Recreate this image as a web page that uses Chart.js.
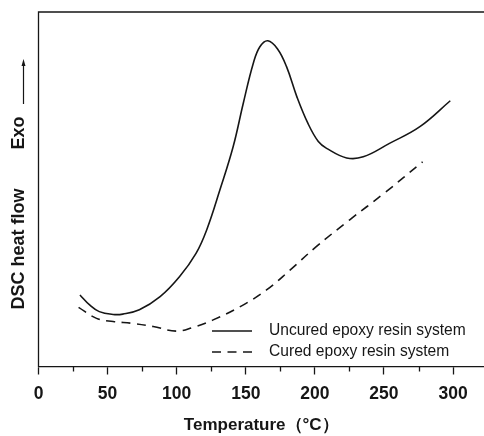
<!DOCTYPE html>
<html>
<head>
<meta charset="utf-8">
<script src="https://cdn.jsdelivr.net/npm/chart.js@4.4.0/dist/chart.umd.min.js"></script>
<style>
    html, body { margin: 0; padding: 0; background: #fff; }
</style>
</head>
<body>
<canvas id="graficoDsc" width="484" height="436"></canvas>
<script>
// Uncured epoxy resin system (solid)
const tempUncured = [30, 37, 44, 54, 61, 73, 88, 102, 114, 121.7, 131.3, 140.9, 148.2, 155.4,
                     160.2, 166, 173, 179.5, 187, 195, 202.5, 208.5, 223, 235, 254, 276, 298];
const heatUncured = [20.3, 17.5, 15.6, 14.8, 14.9, 16.1, 19.8, 25.4, 32.0, 38.6, 49.9, 62.1, 74.3, 85.5,
                     90.2, 91.9, 89.6, 84.6, 76.1, 68.6, 63.5, 61.6, 58.9, 59.2, 63.0, 67.7, 75.0];

// Cured epoxy resin system (dashed)
const tempCured = [29, 42, 54, 68, 83, 100, 112, 126, 146, 165, 182, 201, 225, 250, 278];
const heatCured = [16.8, 13.7, 12.8, 12.3, 11.4, 10.1, 11.2, 13.2, 17.0, 21.7, 27.3, 33.9, 41.4, 48.9, 57.8];

const majorTicks = [0, 50, 100, 150, 200, 250, 300];
const minorTicks = [25, 75, 125, 175, 225, 275];
const seriesNames = ["Uncured epoxy resin system", "Cured epoxy resin system"];

const COR = "#161616";
const FONTE = "'Liberation Sans', Arial, Helvetica, sans-serif";

function pares(xs, ys) {
    return xs.map((x, i) => ({ x: x, y: ys[i] }));
}

// desenha moldura, ticks menores, titulo do eixo Y e legenda
const extras = {
    id: "extras",
    afterDraw(chart) {
        const ctx = chart.ctx;
        const a = chart.chartArea;
        const sx = chart.scales.x;
        ctx.save();
        ctx.strokeStyle = COR;
        ctx.lineWidth = 1.3;
        ctx.beginPath();
        ctx.moveTo(a.left, a.bottom);
        ctx.lineTo(a.left, a.top);
        ctx.lineTo(a.right, a.top);
        minorTicks.forEach(v => {
            const px = Math.round(sx.getPixelForValue(v)) + 0.5;
            ctx.moveTo(px, a.bottom);
            ctx.lineTo(px, a.bottom + 4.5);
        });
        ctx.stroke();

        // titulo Y
        ctx.fillStyle = COR;
        ctx.font = "bold 18px " + FONTE;
        ctx.textAlign = "center";
        ctx.textBaseline = "middle";
        ctx.save();
        ctx.translate(19.5, 249);
        ctx.rotate(-Math.PI / 2);
        ctx.fillText("DSC heat flow", 0, 0);
        ctx.restore();
        ctx.save();
        ctx.translate(19.5, 133);
        ctx.rotate(-Math.PI / 2);
        ctx.fillText("Exo", 0, 0);
        ctx.restore();

        // seta
        ctx.lineWidth = 1.2;
        ctx.beginPath();
        ctx.moveTo(23.5, 104);
        ctx.lineTo(23.5, 64);
        ctx.stroke();
        ctx.beginPath();
        ctx.moveTo(23.5, 59);
        ctx.lineTo(21.5, 66);
        ctx.lineTo(25.5, 66);
        ctx.closePath();
        ctx.fill();

        // legenda
        ctx.lineWidth = 1.6;
        ctx.beginPath();
        ctx.moveTo(212, 331);
        ctx.lineTo(252, 331);
        ctx.stroke();
        ctx.setLineDash([9, 6.5]);
        ctx.beginPath();
        ctx.moveTo(212, 352);
        ctx.lineTo(252, 352);
        ctx.stroke();
        ctx.setLineDash([]);
        ctx.font = "15.6px " + FONTE;
        ctx.textAlign = "left";
        ctx.fillText(seriesNames[0], 269, 331);
        ctx.fillText(seriesNames[1], 269, 352);
        ctx.restore();
    }
};

const ctx = document.getElementById("graficoDsc").getContext("2d");

new Chart(ctx, {
    type: "line",
    data: {
        datasets: [{
            label: seriesNames[0],
            data: pares(tempUncured, heatUncured),
            borderColor: COR,
            borderWidth: 1.6,
            pointRadius: 0,
            tension: 0.4,
            fill: false
        }, {
            label: seriesNames[1],
            data: pares(tempCured, heatCured),
            borderColor: COR,
            borderWidth: 1.6,
            borderDash: [9, 6.5],
            pointRadius: 0,
            tension: 0.4,
            fill: false
        }]
    },
    options: {
        responsive: false,
        animation: false,
        layout: { padding: { left: 38.5, top: 12, right: 0, bottom: 0 } },
        plugins: {
            legend: { display: false },
            tooltip: { enabled: false }
        },
        scales: {
            x: {
                type: "linear",
                min: 0,
                max: 322.4,
                afterBuildTicks: function(scale) {
                    scale.ticks = majorTicks.map(v => ({ value: v }));
                },
                afterFit: function(scale) {
                    scale.height = 69;
                },
                grid: {
                    drawOnChartArea: false,
                    drawTicks: true,
                    tickLength: 7.5,
                    tickColor: COR,
                    tickWidth: 1.3
                },
                border: { display: true, color: COR, width: 1.3 },
                ticks: {
                    includeBounds: false,
                    autoSkip: false,
                    maxRotation: 0,
                    padding: 9,
                    color: COR,
                    font: { family: FONTE, size: 17.5, weight: "bold" }
                },
                title: {
                    display: true,
                    text: "Temperature（°C）",
                    color: COR,
                    font: { family: FONTE, size: 17, weight: "bold" },
                    padding: { top: 0, bottom: 0 }
                }
            },
            y: {
                display: false,
                min: 0,
                max: 100
            }
        }
    },
    plugins: [extras]
});
</script>
</body>
</html>
